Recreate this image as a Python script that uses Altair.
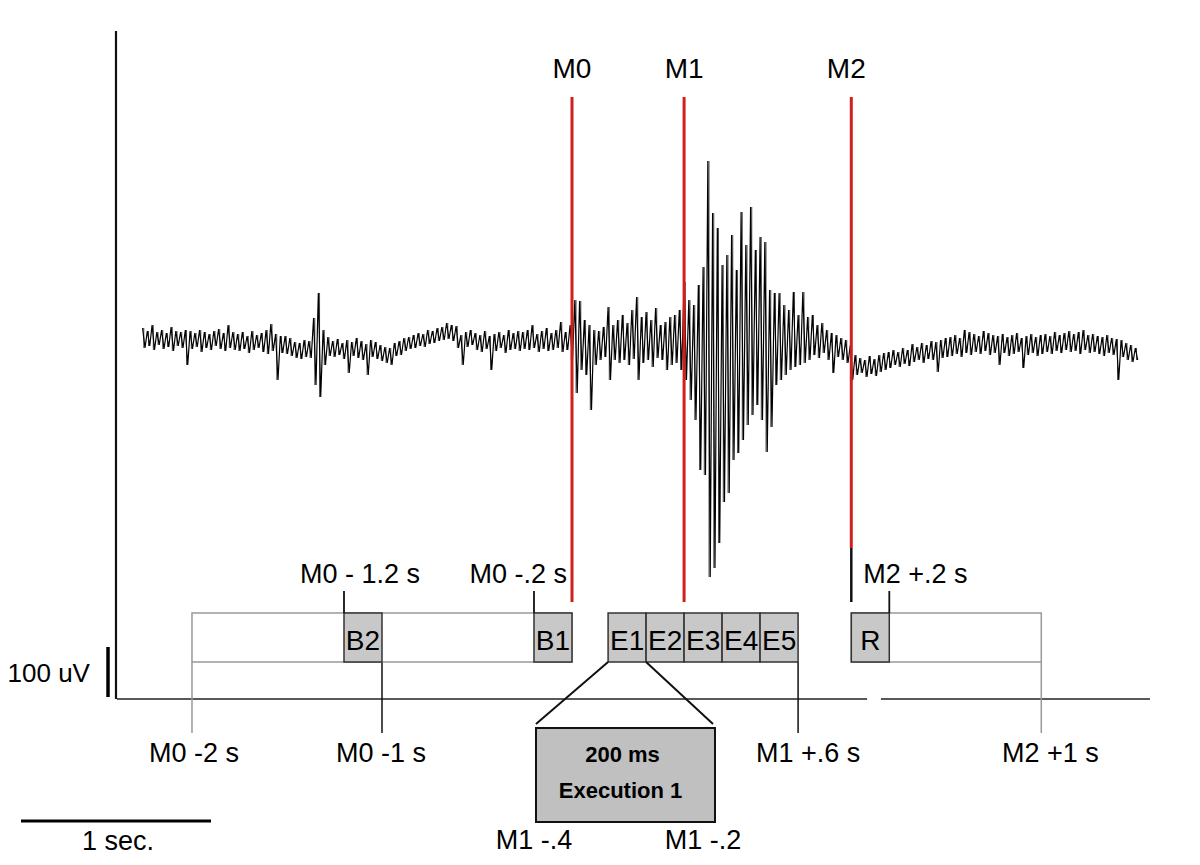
import altair as alt
import pandas as pd

# ---------------- data ----------------
# EMG trace, read from the picture as an envelope per 25 ms bin (uV, relative to baseline)
sig_t0 = -2.26   # s relative to M0
sig_dt = 0.025   # s per bin
sig_hi = [
    34, 28, 40, 26, 30, 24, 36, 28, 26, 30,
    28, 24, 30, 26, 22, 28, 32, 24, 40, 26,
    22, 26, 18, 28, 20, 24, 30, 42, 22, 18,
    18, 14, 6, 4, 10, 8, 54, 104, 30, 16,
    8, 12, 4, 10, 6, 14, 8, 2, 10, 6,
    0, -4, -6, 4, 8, 14, 16, 20, 24, 22,
    30, 28, 34, 36, 44, 40, 38, 20, 26, 30,
    24, 20, 28, 18, 22, 26, 20, 30, 24, 28,
    26, 30, 40, 22, 28, 34, 24, 30, 46, 26,
    40, 90, 88, 50, 40, 30, 28, 36, 76, 40,
    50, 60, 44, 70, 96, 56, 66, 50, 74, 40,
    46, 56, 60, 70, 126, 90, 80, 120, 156, 368,
    264, 234, 160, 180, 220, 150, 266, 200, 276, 190,
    216, 206, 110, 104, 104, 80, 70, 106, 60, 106,
    56, 60, 40, 44, 30, 24, 20, 14, 10, 0,
    -20, -26, -30, -22, -28, -20, -16, -14, -10, -14,
    -6, -10, 2, -4, 4, 0, 8, 6, 10, 14,
    16, 20, 14, 30, 26, 22, 18, 28, 24, 20,
    18, 22, 16, 20, 24, 14, 18, 22, 16, 20,
    22, 18, 26, 20, 24, 28, 22, 26, 30, 20,
    22, 18, 16, 20, 14, 12, 10, 4, 0, -6,
]
sig_lo = [
    -6, -2, -10, 0, -8, -4, -12, -2, -6, -40,
    -8, -4, -14, -6, -10, -2, -8, -12, -6, -10,
    -12, -8, -16, -10, -6, -14, -18, -12, -70, -16,
    -18, -22, -26, -28, -24, -26, -80, -104, -40, -22,
    -24, -20, -28, -56, -22, -26, -30, -60, -24, -28,
    -32, -36, -40, -22, -20, -12, -8, -6, -2, -4,
    2, 4, 8, 10, 12, 8, -6, -40, -4, 0,
    -10, -14, -8, -50, -12, -6, -16, -10, -8, -12,
    -8, -10, -6, -14, -8, -12, -10, -6, -14, -10,
    -30, -96, -50, -60, -130, -40, -30, -24, -70, -30,
    -36, -30, -40, -28, -70, -36, -30, -44, -26, -30,
    -50, -40, -36, -50, -70, -110, -150, -250, -260, -464,
    -446, -396, -314, -296, -230, -216, -190, -160, -140, -120,
    -150, -214, -164, -80, -70, -60, -50, -44, -40, -36,
    -30, -20, -26, -16, -30, -56, -24, -30, -36, -70,
    -60, -56, -64, -58, -62, -54, -50, -46, -40, -44,
    -38, -42, -34, -30, -36, -28, -30, -54, -26, -24,
    -22, -18, -24, -16, -20, -14, -18, -12, -20, -16,
    -40, -16, -22, -18, -14, -46, -20, -16, -22, -18,
    -14, -18, -12, -16, -10, -14, -12, -18, -10, -16,
    -14, -18, -22, -16, -20, -70, -24, -30, -34, -30,
]

event_names = ["M0", "M1", "M2"]
event_times = [0.0, 0.59, 1.47]

win_labels = ["B2", "B1", "E1", "E2", "E3", "E4", "E5", "R"]
win_start = [-1.2, -0.2, 0.19, 0.39, 0.59, 0.79, 0.99, 1.47]
win_end = [-1.0, 0.0, 0.39, 0.59, 0.79, 0.99, 1.19, 1.67]

epoch_start = [-2.0, 1.47]
epoch_end = [0.0, 2.47]

top_labels = ["M0 - 1.2 s", "M0 -.2 s", "M2 +.2 s"]
top_times = [-1.2, -0.2, 1.67]

bottom_labels = ["M0 -2 s", "M0 -1 s", "M1 +.6 s", "M2 +1 s"]
bottom_times = [-2.0, -1.0, 1.19, 2.47]

zoom_labels = ["M1 -.4", "M1 -.2"]
zoom_title = ["200 ms", "Execution 1"]

scale_uv = 100
scale_s = 1.0

# ---------------- helpers ----------------
FONT = "Liberation Sans"
PX = 190.0  # px per second (layout)
xs = alt.Scale(domain=[-2.9684, 3.2632], nice=False, zero=False)
ys = alt.Scale(domain=[-1024, 674], nice=False, zero=False)


def rules(df, color, width, opacity=1.0):
    return alt.Chart(df).mark_rule(color=color, strokeWidth=width, opacity=opacity).encode(
        x=alt.X("t:Q", scale=xs, axis=None), x2="t2:Q",
        y=alt.Y("u:Q", scale=ys, axis=None), y2="u2:Q")


def rects(df, fill, stroke, width):
    return alt.Chart(df).mark_rect(fill=fill, stroke=stroke, strokeWidth=width).encode(
        x=alt.X("t:Q", scale=xs, axis=None), x2="t2:Q",
        y=alt.Y("u:Q", scale=ys, axis=None), y2="u2:Q")


def texts(df, size, align="center", bold=False):
    return alt.Chart(df).mark_text(
        font=FONT, fontSize=size, align=align, baseline="alphabetic", color="black",
        fontWeight="bold" if bold else "normal").encode(
        x=alt.X("t:Q", scale=xs, axis=None),
        y=alt.Y("u:Q", scale=ys, axis=None),
        text="label:N")


# ---------------- signal ----------------
rows = []
bars = []
for i, (h, l) in enumerate(zip(sig_hi, sig_lo)):
    t = sig_t0 + i * sig_dt
    rows.append({"t": t, "u": h, "o": 2 * i})
    rows.append({"t": t + sig_dt / 2, "u": l, "o": 2 * i + 1})
    bars.append({"t": t + sig_dt / 4, "t2": t + sig_dt / 4, "u": h, "u2": l})
sig_df = pd.DataFrame(rows)
signal = alt.Chart(sig_df).mark_line(color="black", strokeWidth=1.2).encode(
    x=alt.X("t:Q", scale=xs, axis=None),
    y=alt.Y("u:Q", scale=ys, axis=None),
    order="o:Q")
signal_bars = rules(pd.DataFrame(bars), "#222", 1.0, 0.8)

# ---------------- frame lines ----------------
frame = rules(pd.DataFrame([
    {"t": -2.4, "t2": -2.4, "u": 628, "u2": -708},
]), "#111", 2.2)
baseline_df = pd.DataFrame([
    {"t": -2.395, "t2": 1.553, "u": -708, "u2": -708},
    {"t": 1.626, "t2": 3.042, "u": -708, "u2": -708},
])
baseline = rules(baseline_df, "#222", 1.5)

# ---------------- event markers ----------------
red_df = pd.DataFrame([
    {"t": t, "t2": t, "u": 496, "u2": (-406 if n == "M2" else -514)}
    for n, t in zip(event_names, event_times)
])
red = rules(red_df, "#cf1f1f", 3)
m2_tail = rules(pd.DataFrame([{"t": event_times[2], "t2": event_times[2], "u": -406, "u2": -514}]), "#111", 2.5)
ev_text = texts(pd.DataFrame([
    {"t": t + (-5 / PX if n == "M2" else 0), "u": 534, "label": n}
    for n, t in zip(event_names, event_times)
]), 28)

# ---------------- epochs & windows ----------------
BOX_TOP, BOX_BOT = -536, -634
epochs = rects(pd.DataFrame({"t": epoch_start, "t2": epoch_end, "u": BOX_TOP, "u2": BOX_BOT}),
               "white", "#999", 1.5)
wins = rects(pd.DataFrame({"t": win_start, "t2": win_end, "u": BOX_TOP, "u2": BOX_BOT}),
             "#c8c8c8", "#333", 1.5)
win_text = texts(pd.DataFrame({
    "t": [(a + b) / 2 for a, b in zip(win_start, win_end)],
    "u": -610, "label": win_labels}), 28)

# ticks above windows + their labels
ticks_up = rules(pd.DataFrame({"t": top_times, "t2": top_times, "u": -492, "u2": BOX_TOP}), "#111", 1.8)
top_lab_c = texts(pd.DataFrame([{"t": top_times[0] + 16 / PX, "u": -476, "label": top_labels[0]}]), 27)
top_lab_r = texts(pd.DataFrame([{"t": top_times[1] + 33 / PX, "u": -476, "label": top_labels[1]}]), 27, align="right")
top_lab_l = texts(pd.DataFrame([{"t": top_times[2] - 26 / PX, "u": -476, "label": top_labels[2]}]), 27, align="left")

# lines below boxes + labels
below_gray = rules(pd.DataFrame({"t": [bottom_times[0], bottom_times[3]], "t2": [bottom_times[0], bottom_times[3]],
                                 "u": BOX_BOT, "u2": -776}), "#999", 1.5)
below_dark = rules(pd.DataFrame({"t": [bottom_times[1], bottom_times[2]], "t2": [bottom_times[1], bottom_times[2]],
                                 "u": BOX_BOT, "u2": -776}), "#111", 1.5)
bot_offsets = [2, -1, 10, 9]
bot_text = texts(pd.DataFrame({
    "t": [t + o / PX for t, o in zip(bottom_times, bot_offsets)],
    "u": -834, "label": bottom_labels}), 27)

# ---------------- zoomed window E1 ----------------
Z_L, Z_R = -0.1895, 0.7526
zoom_box = rects(pd.DataFrame([{"t": Z_L, "t2": Z_R, "u": -766, "u2": -954}]), "#c0c0c0", "#111", 2)
connectors = rules(pd.DataFrame([
    {"t": win_start[2], "t2": Z_L, "u": BOX_BOT, "u2": -758},
    {"t": win_end[2], "t2": Z_R - 2 / PX, "u": BOX_BOT, "u2": -758},
]), "#111", 2)
zoom_txt = texts(pd.DataFrame([
    {"t": (Z_L + Z_R) / 2 - 3 / PX, "u": -834, "label": zoom_title[0]},
    {"t": (Z_L + Z_R) / 2 - 5 / PX, "u": -906, "label": zoom_title[1]},
]), 22, bold=True)
zoom_lab = texts(pd.DataFrame([
    {"t": Z_L - 2 / PX, "u": -1008, "label": zoom_labels[0]},
    {"t": Z_R - 12 / PX, "u": -1008, "label": zoom_labels[1]},
]), 27)

# ---------------- scale bars ----------------
uv_bar = rules(pd.DataFrame([{"t": -2.442, "t2": -2.442, "u": -604, "u2": -604 - scale_uv}]), "black", 3.5)
uv_text = texts(pd.DataFrame([{"t": -2.537, "u": -674, "label": f"{scale_uv} uV"}]), 26, align="right")
s_bar = rules(pd.DataFrame([{"t": -2.9, "t2": -2.9 + scale_s, "u": -952, "u2": -952}]), "black", 3)
s_text = texts(pd.DataFrame([{"t": -2.39, "u": -1010, "label": "1 sec."}]), 27)

chart = alt.layer(
    frame, baseline,
    below_gray, below_dark,
    epochs, wins, win_text,
    ticks_up, top_lab_c, top_lab_r, top_lab_l,
    bot_text,
    signal_bars, signal,
    red, m2_tail, ev_text,
    connectors, zoom_box, zoom_txt, zoom_lab,
    uv_bar, uv_text, s_bar, s_text,
).properties(
    width=1184, height=849,
    autosize=alt.AutoSizeParams(type="none"),
    padding=0,
).configure_view(stroke=None)

chart.save("out.html", embed_options={"renderer": "svg", "actions": False})
